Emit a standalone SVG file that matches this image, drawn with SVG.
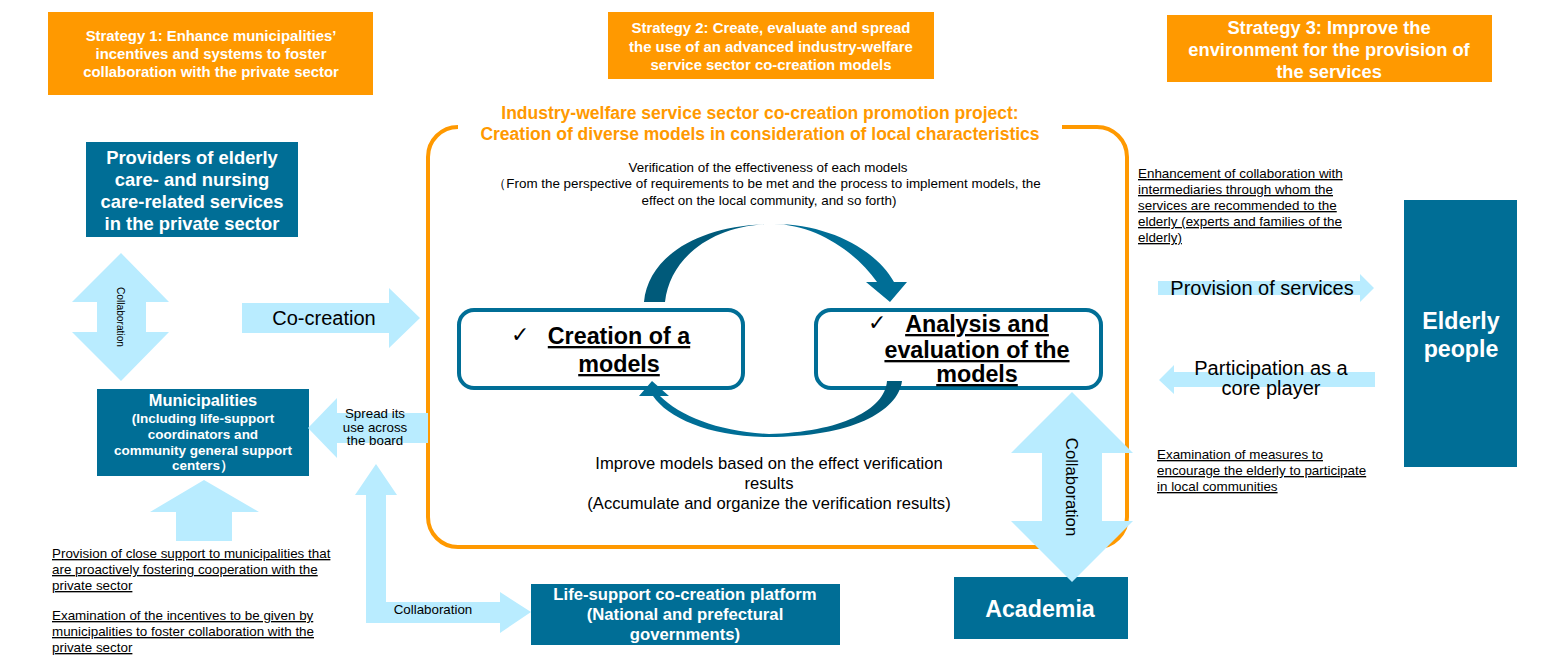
<svg xmlns="http://www.w3.org/2000/svg" width="1548" height="664" viewBox="0 0 1548 664">
<style>
text{font-family:"Liberation Sans",Arial,sans-serif;fill:#000;text-anchor:middle}
.w{fill:#fff;font-weight:bold}
.o{fill:#ff9900}.t{fill:#006e96}.a{fill:#b9ecff}
.u{text-decoration:underline;text-anchor:start;font-size:13.4px}
.m{font-weight:bold;font-size:23.3px;text-decoration:underline}
.b{fill:#fff;stroke:#006e96;stroke-width:4}
.c{font-family:"DejaVu Sans",sans-serif;font-size:22px;text-anchor:start}
</style>
<defs>
<linearGradient id="g1" x1="644" y1="0" x2="800" y2="0" gradientUnits="userSpaceOnUse"><stop offset="0" stop-color="#005a7a"/><stop offset="0.45" stop-color="#005a7a"/><stop offset="1" stop-color="#006e96"/></linearGradient>
<linearGradient id="g2" x1="902" y1="0" x2="780" y2="0" gradientUnits="userSpaceOnUse"><stop offset="0" stop-color="#005a7a"/><stop offset="0.3" stop-color="#005a7a"/><stop offset="1" stop-color="#006e96"/></linearGradient>
</defs>

<g id="frame"><path d="M1062 127H1097A30 30 0 0 1 1127 157V517A30 30 0 0 1 1097 547H458A30 30 0 0 1 428 517V157A30 30 0 0 1 458 127" fill="none" stroke="#ff9900" stroke-width="4"/></g>

<g id="strategy1"><rect class="o" x="48" y="12" width="325" height="83"/>
<text class="w" font-size="14.9" x="211" y="41">Strategy 1: Enhance municipalities’</text>
<text class="w" font-size="14.9" x="211" y="59">incentives and systems to foster</text>
<text class="w" font-size="14.9" x="211" y="77">collaboration with the private sector</text></g>
<g id="strategy2"><rect class="o" x="608" y="12" width="326" height="67"/>
<text class="w" font-size="14.9" x="771" y="33">Strategy 2: Create, evaluate and spread</text>
<text class="w" font-size="14.9" x="771" y="52">the use of an advanced industry-welfare</text>
<text class="w" font-size="14.9" x="771" y="70">service sector co-creation models</text></g>
<g id="strategy3"><rect class="o" x="1167" y="15" width="325" height="67"/>
<text class="w" font-size="18.3" x="1329" y="34">Strategy 3: Improve the</text>
<text class="w" font-size="18.3" x="1329" y="56">environment for the provision of</text>
<text class="w" font-size="18.3" x="1329" y="78">the services</text></g>

<g id="project-title">
<text font-size="17.5" font-weight="bold" style="fill:#ff9900" x="760" y="119">Industry-welfare service sector co-creation promotion project:</text>
<text font-size="17.5" font-weight="bold" style="fill:#ff9900" x="760" y="140">Creation of diverse models in consideration of local characteristics</text></g>
<g id="verification">
<text font-size="13.4" x="768" y="172">Verification of the effectiveness of each models</text>
<text font-size="13.4" x="767" y="188">（From the perspective of requirements to be met and the process to implement models, the</text>
<text font-size="13.4" x="769" y="205">effect on the local community, and so forth)</text></g>

<g id="providers"><rect class="t" x="86" y="142" width="212" height="95"/>
<text class="w" font-size="18.4" x="192" y="164">Providers of elderly</text>
<text class="w" font-size="18.4" x="192" y="186">care- and nursing</text>
<text class="w" font-size="18.4" x="192" y="208">care-related services</text>
<text class="w" font-size="18.4" x="192" y="230">in the private sector</text></g>
<g id="municipalities"><rect class="t" x="97" y="389" width="212" height="87"/>
<text class="w" font-size="16.4" x="203" y="406">Municipalities</text>
<text class="w" font-size="13.5" x="203" y="423">(Including life-support</text>
<text class="w" font-size="13.5" x="203" y="439">coordinators and</text>
<text class="w" font-size="13.5" x="203" y="455">community general support</text>
<text class="w" font-size="13.5" x="203" y="470">centers）</text></g>
<g id="platform"><rect class="t" x="531" y="584" width="309" height="61"/>
<text class="w" font-size="16.7" x="685" y="600">Life-support co-creation platform</text>
<text class="w" font-size="16.7" x="685" y="620">(National and prefectural</text>
<text class="w" font-size="16.7" x="685" y="640">governments)</text></g>
<g id="academia"><rect class="t" x="954" y="577" width="174" height="62"/>
<text class="w" font-size="23.2" x="1040" y="617">Academia</text></g>
<g id="elderly"><rect class="t" x="1404" y="200" width="113" height="267"/>
<text class="w" font-size="23.2" x="1461" y="329">Elderly</text>
<text class="w" font-size="23.2" x="1461" y="357">people</text></g>

<g id="creation"><rect class="b" x="459" y="310" width="284" height="78" rx="15"/>
<text class="c" x="511" y="342">✓</text>
<text class="m" x="619" y="344">Creation of a</text>
<text class="m" x="619" y="372">models</text></g>
<g id="analysis"><rect class="b" x="816" y="310" width="285" height="78" rx="15"/>
<text class="c" x="868" y="330">✓</text>
<text class="m" x="977" y="332">Analysis and</text>
<text class="m" x="977" y="358">evaluation of the</text>
<text class="m" x="977" y="382">models</text></g>

<g id="connectors">
<path class="a" d="M121 253L169 302H146V332H169L121 381L72 332H97V302H72Z"/>
<path class="a" d="M242 303H389V288L420 318L389 348V333H242Z"/>
<path class="a" d="M308 428L337 398V413H428V443H337V458Z"/>
<path class="a" d="M204 480L259 512H232V541H176V512H150Z"/>
<path class="a" d="M376 464L397 495H386V602H500V592L531 612L500 633V623H366V495H355Z"/>
<path class="a" d="M1158 281H1360V274L1374 288L1360 302V295H1158Z"/>
<path class="a" d="M1159 380L1174 365V372H1375V387H1174V394Z"/>
<path class="a" d="M1072 392L1133 453H1102V521H1133L1072 582L1011 521H1042V453H1011Z"/>
<path d="M644 302C648 256 700 224 773 224C830 224 876 250 894 282H907L890 302L866 282H877C856 252 815 224 773 224C715 224 670 256 665 302Z" fill="url(#g1)"/>
<path d="M887 381H902C898 412 850 437 769 437C710 437 668 418 653 396H639L652 381L669 396H660C680 416 720 432 769 434C840 432 885 410 887 381Z" fill="url(#g2)"/>
</g>

<g id="labels">
<text font-size="10.2" transform="translate(117 317) rotate(90)">Collaboration</text>
<text font-size="20" x="324" y="325">Co-creation</text>
<text font-size="13.33" x="375" y="418">Spread its</text>
<text font-size="13.33" x="375" y="432">use across</text>
<text font-size="13.33" x="375" y="445">the board</text>
<text font-size="13.33" x="433" y="614">Collaboration</text>
<text font-size="16.7" transform="translate(1066 487) rotate(90)">Collaboration</text>
<text font-size="20" x="1262" y="295">Provision of services</text>
<text font-size="20" x="1271" y="375">Participation as a</text>
<text font-size="20" x="1271" y="395">core player</text>
<text font-size="16.6" x="769" y="469">Improve models based on the effect verification</text>
<text font-size="16.6" x="769" y="489">results</text>
<text font-size="16.6" x="769" y="509">(Accumulate and organize the verification results)</text>
</g>
<g id="notes">
<text class="u" x="52" y="558">Provision of close support to municipalities that</text>
<text class="u" x="52" y="574">are proactively fostering cooperation with the</text>
<text class="u" x="52" y="590">private sector</text>
<text class="u" x="52" y="620">Examination of the incentives to be given by</text>
<text class="u" x="52" y="636">municipalities to foster collaboration with the</text>
<text class="u" x="52" y="652">private sector</text>
<text class="u" x="1138" y="178">Enhancement of collaboration with</text>
<text class="u" x="1138" y="194">intermediaries through whom the</text>
<text class="u" x="1138" y="210">services are recommended to the</text>
<text class="u" x="1138" y="226">elderly (experts and families of the</text>
<text class="u" x="1138" y="242">elderly)</text>
<text class="u" x="1157" y="459">Examination of measures to</text>
<text class="u" x="1157" y="475">encourage the elderly to participate</text>
<text class="u" x="1157" y="491">in local communities</text>
</g>
</svg>
